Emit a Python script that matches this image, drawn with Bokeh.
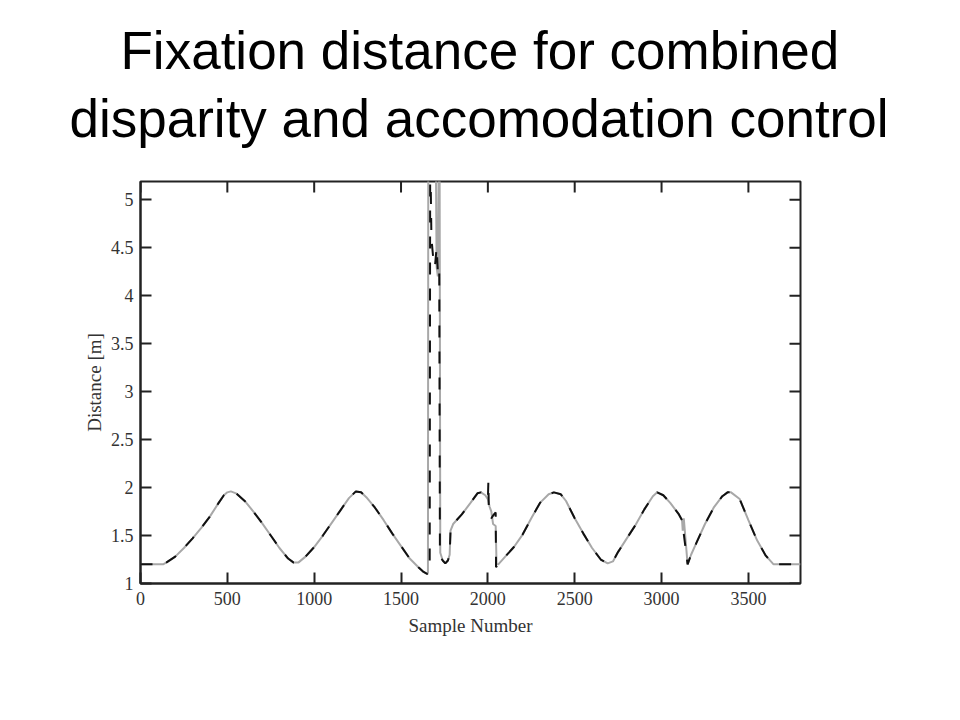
from bokeh.plotting import figure
from bokeh.models import Range1d, FixedTicker, Title
from bokeh.embed import file_html
from bokeh.resources import INLINE

title_line1 = "Fixation distance for combined"
title_line2 = "disparity and accomodation control"
x_label = "Sample Number"
y_label = "Distance [m]"
x_ticks = [0, 500, 1000, 1500, 2000, 2500, 3000, 3500]
y_ticks = [1, 1.5, 2, 2.5, 3, 3.5, 4, 4.5, 5]
x_min, x_max = 0, 3800
y_min, y_max = 1, 5.19

# gray series (sample number, distance in m)
gray_x = [0, 50, 100, 130, 150, 200, 250, 300, 350, 400, 450, 480, 500, 520, 550,
          600, 650, 700, 750, 800, 850, 880, 910, 950, 1000, 1050, 1100, 1150, 1200,
          1240, 1270, 1300, 1350, 1400, 1450, 1500, 1550, 1600, 1630, 1650, 1655,
          1657, 1700, 1705, 1712, 1718, 1722, 1726, 1740, 1755, 1770, 1780, 1785,
          1800, 1850, 1900, 1940, 1960, 1985, 2000, 2010, 2020, 2030, 2045, 2050,
          2060, 2100, 2150, 2200, 2250, 2300, 2350, 2380, 2420, 2450, 2500, 2550,
          2600, 2650, 2690, 2720, 2750, 2800, 2850, 2900, 2950, 2975, 3010, 3050,
          3100, 3118, 3122, 3128, 3150, 3170, 3200, 3250, 3300, 3350, 3380, 3400,
          3450, 3500, 3550, 3600, 3645, 3700, 3750, 3800]
gray_y = [1.20, 1.20, 1.20, 1.20, 1.22, 1.28, 1.37, 1.47, 1.58, 1.70, 1.84, 1.92, 1.95, 1.96, 1.94,
          1.86, 1.75, 1.63, 1.50, 1.37, 1.26, 1.22, 1.22, 1.28, 1.38, 1.50, 1.63, 1.76, 1.89,
          1.96, 1.95, 1.90, 1.79, 1.66, 1.52, 1.39, 1.26, 1.17, 1.12, 1.10, 1.11,
          5.60, 5.60, 4.30, 4.20, 5.60, 5.60, 1.32, 1.24, 1.21, 1.24, 1.30, 1.55,
          1.62, 1.72, 1.84, 1.94, 1.95, 1.92, 1.88, 1.80, 1.75, 1.62, 1.60, 1.20,
          1.20, 1.28, 1.38, 1.51, 1.68, 1.84, 1.93, 1.95, 1.93, 1.86, 1.68, 1.52,
          1.37, 1.25, 1.21, 1.23, 1.33, 1.47, 1.61, 1.77, 1.91, 1.95, 1.92, 1.84,
          1.72, 1.66, 1.55, 1.68, 1.20, 1.30, 1.42, 1.62, 1.79, 1.91, 1.95, 1.95,
          1.88, 1.66, 1.45, 1.29, 1.20, 1.20, 1.20, 1.20]

# black series (sample number, distance in m)
black_x = [0, 50, 100, 130, 150, 200, 250, 300, 350, 400, 450, 480, 500, 520, 550,
           600, 650, 700, 750, 800, 850, 880, 910, 950, 1000, 1050, 1100, 1150, 1200,
           1240, 1270, 1300, 1350, 1400, 1450, 1500, 1550, 1600, 1630, 1650, 1665,
           1668, 1675, 1685, 1695, 1705, 1712, 1720, 1724, 1740, 1755, 1770, 1780, 1785,
           1800, 1850, 1900, 1940, 1960, 1985, 2000, 2003, 2006, 2020, 2035, 2045, 2047,
           2060, 2100, 2150, 2200, 2250, 2300, 2350, 2380, 2420, 2450, 2500, 2550,
           2600, 2650, 2690, 2720, 2750, 2800, 2850, 2900, 2950, 2975, 3010, 3050,
           3100, 3118, 3150, 3170, 3200, 3250, 3300, 3350, 3380, 3400,
           3450, 3500, 3550, 3600, 3645, 3700, 3750, 3800]
black_y = [1.20, 1.20, 1.20, 1.20, 1.22, 1.28, 1.37, 1.47, 1.58, 1.70, 1.84, 1.92, 1.95, 1.96, 1.94,
           1.86, 1.75, 1.63, 1.50, 1.37, 1.26, 1.22, 1.22, 1.28, 1.38, 1.50, 1.63, 1.76, 1.89,
           1.96, 1.95, 1.90, 1.79, 1.66, 1.52, 1.39, 1.26, 1.17, 1.12, 1.10, 1.12,
           5.60, 4.60, 4.40, 4.30, 4.50, 4.25, 4.30, 1.28, 1.24, 1.21, 1.24, 1.30, 1.55,
           1.62, 1.72, 1.84, 1.94, 1.95, 1.92, 1.88, 2.07, 1.70, 1.68, 1.72, 1.74, 1.17,
           1.20, 1.28, 1.38, 1.51, 1.68, 1.84, 1.93, 1.95, 1.93, 1.86, 1.68, 1.52,
           1.37, 1.25, 1.21, 1.23, 1.33, 1.47, 1.61, 1.77, 1.91, 1.95, 1.92, 1.84,
           1.72, 1.66, 1.20, 1.30, 1.42, 1.62, 1.79, 1.91, 1.95, 1.95,
           1.88, 1.66, 1.45, 1.29, 1.20, 1.20, 1.20, 1.20]

AXIS_COLOR = "#222222"
LABEL_COLOR = "#333333"
SERIF = "Liberation Serif"
SANS = "Liberation Sans"
FRAME_W, FRAME_H = 660, 402
TICK_PX = 11

p = figure(frame_width=FRAME_W, frame_height=FRAME_H,
           x_range=Range1d(x_min, x_max), y_range=Range1d(y_min, y_max),
           output_backend="svg", toolbar_location=None, title=None,
           min_border_left=140, min_border_top=181, min_border_right=150,
           min_border_bottom=70, background_fill_color="white",
           border_fill_color="white", outline_line_color=AXIS_COLOR,
           outline_line_width=2)

p.xgrid.visible = False
p.ygrid.visible = False

# data lines
p.line(gray_x, gray_y, line_color="#a8a8a8", line_width=2)
p.line(black_x, black_y, line_color="#111111", line_width=2, line_dash="12 14")

# mirrored inward ticks on the top and right edges
tick_len_y = TICK_PX * (y_max - y_min) / FRAME_H
tick_len_x = TICK_PX * (x_max - x_min) / FRAME_W
p.segment(x0=x_ticks, x1=x_ticks, y0=[y_max] * len(x_ticks),
          y1=[y_max - tick_len_y] * len(x_ticks),
          line_color=AXIS_COLOR, line_width=2)
p.segment(x0=[x_max] * len(y_ticks), x1=[x_max - tick_len_x] * len(y_ticks),
          y0=y_ticks, y1=y_ticks, line_color=AXIS_COLOR, line_width=2)

for ax in (p.xaxis[0], p.yaxis[0]):
    ax.axis_line_color = AXIS_COLOR
    ax.axis_line_width = 2
    ax.major_tick_line_color = AXIS_COLOR
    ax.major_tick_line_width = 2
    ax.major_tick_in = TICK_PX
    ax.major_tick_out = 0
    ax.minor_tick_line_color = None
    ax.major_label_text_font = SERIF
    ax.major_label_text_font_size = "18px"
    ax.major_label_text_color = LABEL_COLOR
    ax.axis_label_text_font = SERIF
    ax.axis_label_text_font_size = "19px"
    ax.axis_label_text_font_style = "normal"
    ax.axis_label_text_color = LABEL_COLOR

xaxis = p.xaxis[0]
yaxis = p.yaxis[0]
xaxis.ticker = FixedTicker(ticks=x_ticks)
yaxis.ticker = FixedTicker(ticks=y_ticks)
xaxis.axis_label = x_label
yaxis.axis_label = y_label
xaxis.major_label_standoff = 8
xaxis.axis_label_standoff = 7
yaxis.major_label_standoff = 7
yaxis.axis_label_standoff = 3

# two-line title above the frame
t2 = Title(text=title_line2, align="left", offset=-71, standoff=64,
           vertical_align="top",
           text_font=SANS, text_font_size="53px", text_font_style="normal",
           text_color="black")
t1 = Title(text=title_line1, align="left", offset=-20, standoff=-50,
           vertical_align="top",
           text_font=SANS, text_font_size="53px", text_font_style="normal",
           text_color="black")
p.add_layout(t2, "above")
p.add_layout(t1, "above")

open("out.html", "w").write(file_html(p, INLINE))
